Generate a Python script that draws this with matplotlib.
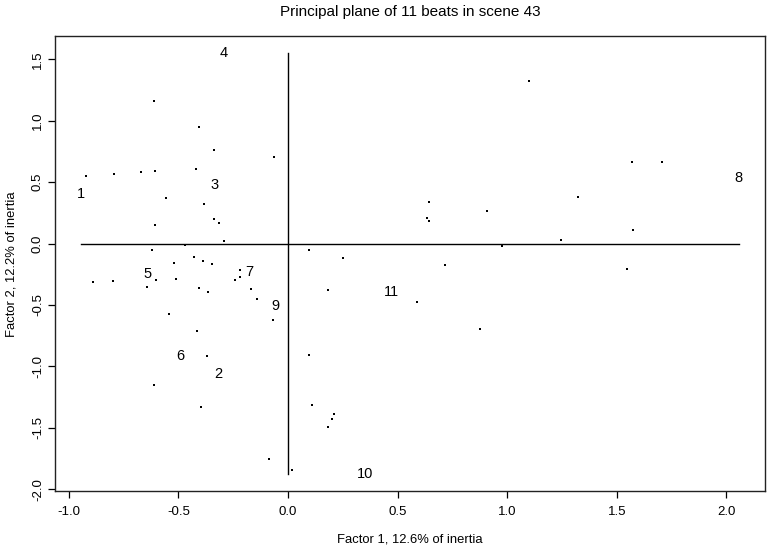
import matplotlib
matplotlib.use("Agg")
import matplotlib.pyplot as plt
import numpy as np

plt.rcParams['font.family'] = ['Liberation Sans', 'DejaVu Sans']

# Individual points (factor 1, factor 2)
pts_x = [-0.922, -0.794, -0.670, -0.607, -0.610, -0.405, -0.336, -0.065, -0.418, -0.557,
         -0.381, -0.336, -0.317, -0.607, -0.293,
         -0.620, -0.468, -0.428, -0.521, -0.387, -0.349, -0.891, -0.797, -0.645, -0.604,
         -0.509, -0.407, -0.366, -0.240, -0.219, -0.219, -0.170, -0.143, -0.067, -0.544,
         -0.416, -0.369, -0.610, -0.395, -0.088, 0.020,
         0.642, 0.910, 0.633, 0.642, 0.976, 0.094, 0.251,
         0.715, 0.184, 0.588, 0.878, 0.096, 0.108, 0.208, 0.199, 0.184,
         1.098, 1.569, 1.708, 1.323, 1.573, 1.247, 1.547]
pts_y = [0.553, 0.564, 0.580, 0.588, 1.165, 0.946, 0.764, 0.702, 0.607, 0.369,
         0.320, 0.201, 0.168, 0.149, 0.022,
         -0.049, -0.011, -0.108, -0.160, -0.144, -0.168, -0.314, -0.306, -0.350, -0.293,
         -0.290, -0.360, -0.390, -0.293, -0.211, -0.274, -0.371, -0.453, -0.623, -0.577,
         -0.710, -0.919, -1.149, -1.331, -1.756, -1.843,
         0.341, 0.268, 0.206, 0.181, -0.022, -0.049, -0.119,
         -0.173, -0.374, -0.477, -0.694, -0.905, -1.317, -1.388, -1.428, -1.490,
         1.328, 0.661, 0.667, 0.380, 0.108, 0.033, -0.209]

# Beat labels
beat_labels = ["1", "2", "3", "4", "5", "6", "7", "8", "9", "10", "11"]
beat_x = [-0.943, -0.317, -0.337, -0.295, -0.642, -0.491, -0.178, 2.056, -0.056, 0.351, 0.471]
beat_y = [0.407, -1.060, 0.474, 1.556, -0.247, -0.919, -0.228, 0.537, -0.504, -1.875, -0.390]

title = "Principal plane of 11 beats in scene 43"
xlab = "Factor 1, 12.6% of inertia"
ylab = "Factor 2, 12.2% of inertia"
xticks = [-1.0, -0.5, 0.0, 0.5, 1.0, 1.5, 2.0]
yticks = [-2.0, -1.5, -1.0, -0.5, 0.0, 0.5, 1.0, 1.5]

W, H = 768, 546
fig = plt.figure(figsize=(W / 100, H / 100), dpi=100)
ax = fig.add_axes([55 / W, 1 - 490.7 / H, 710 / W, 455 / H])

xmin, xmax = min(beat_x), max(beat_x)
ymin, ymax = min(beat_y), max(beat_y)
ax.set_xlim(xmin - 0.04 * (xmax - xmin), xmax + 0.04 * (xmax - xmin))
ax.set_ylim(ymin - 0.04 * (ymax - ymin), ymax + 0.04 * (ymax - ymin))

ax.plot(pts_x, pts_y, linestyle='none', marker='s', markersize=1.5,
        markeredgewidth=0, color='black')

ax.plot([xmin, xmax], [0, 0], color='black', lw=1.0)
ax.plot([0, 0], [ymin, ymax], color='black', lw=1.0)

for lab, x, y in zip(beat_labels, beat_x, beat_y):
    ax.text(x, y, lab, ha='center', va='center', fontsize=10.5, color='black')

ax.set_xticks(xticks)
ax.set_xticklabels([f"{t:.1f}" for t in xticks])
ax.set_yticks(yticks)
ax.set_yticklabels([f"{t:.1f}" for t in yticks], rotation=90, va='center')
ax.tick_params(direction='out', length=5, width=0.9, labelsize=9.5, colors='black')
ax.tick_params(axis='x', pad=6)
ax.tick_params(axis='y', pad=3)
for s in ax.spines.values():
    s.set_linewidth(1.0)
    s.set_color('#222222')

fig.text(410 / W, 1 - 12 / H, title, ha='center', va='center', fontsize=11)
fig.text(410 / W, 1 - 540 / H, xlab, ha='center', va='center', fontsize=9.4)
fig.text(12 / W, 1 - 264 / H, ylab, ha='center', va='center', rotation=90, fontsize=9.4)

fig.savefig("out.png", dpi=100)
